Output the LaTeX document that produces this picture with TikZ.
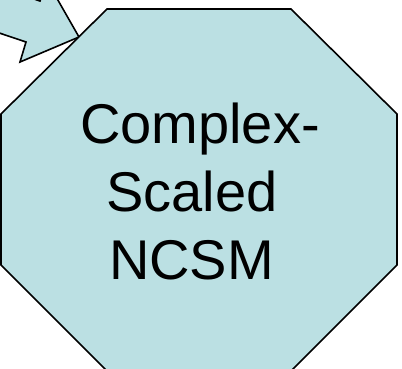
\documentclass[tikz,border=0pt]{standalone}
\usepackage{fontspec}
\setmainfont{Liberation Sans}
\definecolor{octfill}{RGB}{187,224,227}
\begin{document}
\begin{tikzpicture}[x=1pt,y=-1pt,
  shapeline/.style={draw=black,line width=1.6pt,fill=octfill,line join=miter},
  lbl/.style={anchor=base,inner sep=0pt,font=\fontsize{56}{67}\selectfont}]
\useasboundingbox (0,0) rectangle (402,368);
\clip (0,0) rectangle (402,368);
% incoming block arrow (its tail lies outside the frame)
\coordinate (tip) at (79,37);
\draw[shapeline] (tip) -- (47,-19) -- (40,1) -- (-55,-31) -- (-69,10) -- (26,42) -- (20,62) -- cycle;
% octagon
\draw[shapeline] (107,9) -- (291,9) -- (397,114) -- (397,265) -- (292,370) -- (106,370) -- (1,265) -- (1,114) -- cycle;
\node[lbl] (l1) at (200,143) {Complex-};
\node[lbl] (l2) at (192,211) {Scaled};
\node[lbl] (l3) at (191.5,279) {NCSM};
\end{tikzpicture}
\end{document}
